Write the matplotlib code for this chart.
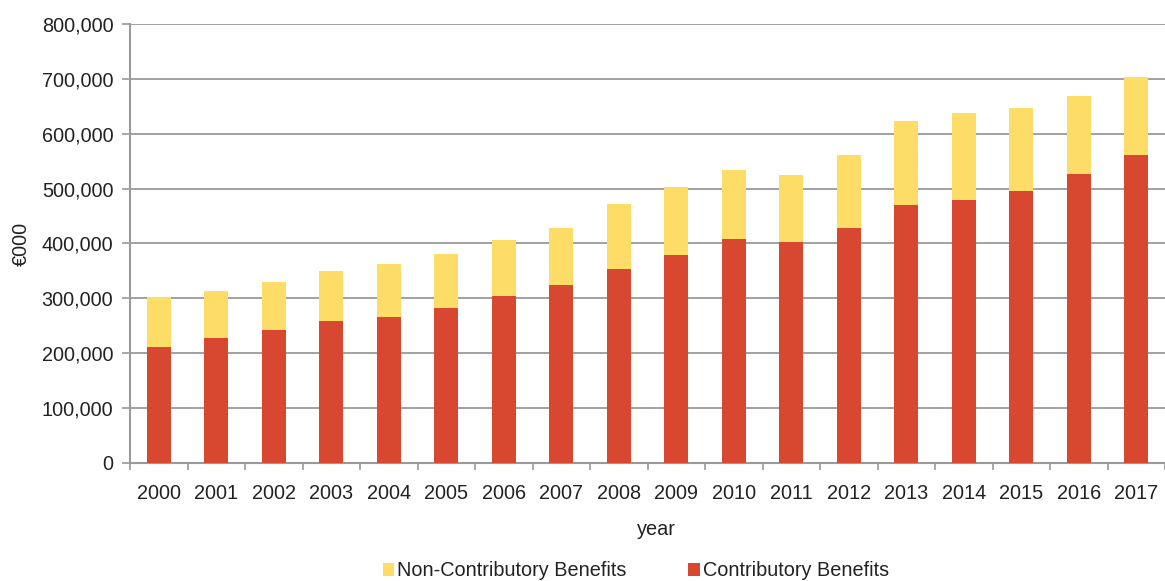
import numpy as np
import matplotlib.pyplot as plt
from matplotlib.ticker import FuncFormatter, FixedLocator

plt.rcParams['font.family'] = ['Liberation Sans', 'DejaVu Sans']

years = [str(y) for y in range(2000, 2018)]
contributory = [211400, 227800, 242400, 258800, 266000, 282400, 304300, 324400,
                353500, 379000, 408200, 402700, 428200, 470100, 479300, 495700,
                526700, 561300]
total = [302500, 313400, 329800, 349900, 362600, 380900, 406400, 428200,
         472000, 503000, 534000, 524800, 561300, 623200, 638300, 647500,
         668200, 702900]
non_contributory = [t - c for t, c in zip(total, contributory)]

red = '#D84830'
yellow = '#FDDD67'
grey = '#9A9A9C'
txt = '#222222'
fs = 14.3

fig = plt.figure(figsize=(11.65, 5.81), dpi=100)
ax = fig.add_axes([130/1165, 1 - 463/581, 1035/1165, 439/581])

x = np.arange(len(years))
ax.bar(x, contributory, width=0.41, color=red, label='Contributory Benefits', zorder=3)
ax.bar(x, non_contributory, width=0.41, bottom=contributory, color=yellow,
       label='Non-Contributory Benefits', zorder=3)

ax.set_xlim(-0.5, len(years) - 0.5)
ax.set_ylim(0, 800000)
ax.set_yticks(np.arange(0, 800001, 100000))
ax.yaxis.set_major_formatter(FuncFormatter(lambda v, p: f'{int(v):,}'))
ax.yaxis.grid(True, color=grey, lw=1.3, zorder=0)

ax.set_xticks(x)
ax.set_xticklabels(years)
ax.xaxis.set_minor_locator(FixedLocator(np.arange(-0.5, len(years), 1)))
ax.tick_params(axis='x', which='major', length=0, pad=15, labelsize=fs, colors=txt)
ax.tick_params(axis='x', which='minor', length=5, color=grey, width=1.2)
ax.tick_params(axis='y', length=6, color=grey, width=1.2, labelsize=fs, pad=6,
               labelcolor=txt)

for s in ['top', 'right']:
    ax.spines[s].set_visible(False)
for s in ['left', 'bottom']:
    ax.spines[s].set_color(grey)
    ax.spines[s].set_linewidth(1.5)

ax.set_xlabel('year', fontsize=fs, color=txt)
ax.xaxis.set_label_coords(0.509, -0.13)
ax.set_ylabel('€000', fontsize=fs, color=txt, labelpad=8)

handles, labels = ax.get_legend_handles_labels()
fig.legend(handles[::-1], labels[::-1], loc='center', bbox_to_anchor=(636/1165, 1 - 571/581),
           ncol=2, frameon=False, fontsize=fs, handlelength=0.6, handleheight=0.6,
           handletextpad=0.15, columnspacing=3.1, labelcolor=txt)

fig.savefig('out.png', dpi=100)
